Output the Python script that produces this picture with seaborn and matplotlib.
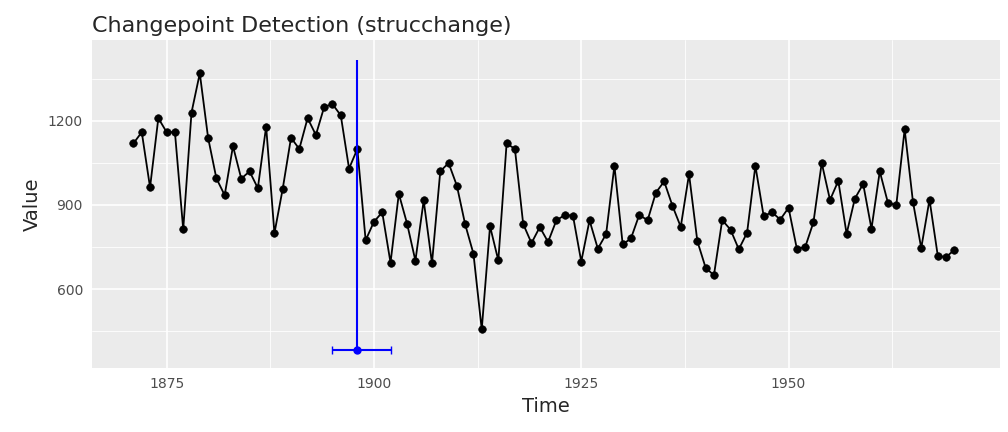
import matplotlib
matplotlib.use("Agg")
import matplotlib.pyplot as plt
import seaborn as sns
import pandas as pd
import numpy as np

years = list(range(1871, 1971))
values = [1120,1160,963,1210,1160,1160,813,1230,1370,1140,995,935,1110,994,1020,960,1180,799,958,1140,
          1100,1210,1150,1250,1260,1220,1030,1100,774,840,874,694,940,833,701,916,692,1020,1050,969,
          831,726,456,824,702,1120,1100,832,764,821,768,845,864,862,698,845,744,796,1040,759,
          781,865,845,944,984,897,822,1010,771,676,649,846,812,742,801,1040,860,874,848,890,
          744,749,838,1050,918,986,797,923,975,815,1020,906,901,1170,912,746,919,718,714,740]
break_year = 1898
ci_low, ci_high = 1895, 1902
ci_y = 382
vline_top = 1418

sns.set_theme(style="darkgrid", rc={"axes.facecolor": "#EBEBEB", "grid.color": "white"})
df = pd.DataFrame({"Time": years, "Value": values})

fig = plt.figure(figsize=(10.08, 4.32), dpi=100)
ax = fig.add_axes([92/1008, 64/432, 908/1008, 328/432])
sns.lineplot(data=df, x="Time", y="Value", color="black", lw=1.3, ax=ax)
sns.scatterplot(data=df, x="Time", y="Value", color="black", s=30, edgecolor="black", ax=ax, zorder=3)
ax.vlines(break_year, ci_y, vline_top, color="blue", lw=1.5, zorder=4)
ax.errorbar([break_year], [ci_y], xerr=[[break_year-ci_low], [ci_high-break_year]],
            fmt="o", color="blue", ms=5, capsize=3, lw=1.5, zorder=5)
ax.set_xlim(1866, 1975.5)
ax.set_ylim(318, 1489)
ax.set_xticks([1875, 1900, 1925, 1950])
ax.set_yticks([600, 900, 1200])
ax.set_xticks([1887.5, 1912.5, 1937.5, 1962.5], minor=True)
ax.set_yticks([450, 750, 1050, 1350], minor=True)
ax.grid(which="major", color="white", lw=1.2)
ax.grid(which="minor", color="white", lw=0.6)
ax.tick_params(colors="#4D4D4D", labelsize=10, length=3)
for s in ax.spines.values():
    s.set_visible(False)
ax.set_xlabel("Time", fontsize=14)
ax.set_ylabel("Value", fontsize=14)
ax.set_title("Changepoint Detection (strucchange)", loc="left", fontsize=16, x=0.0)
fig.savefig("out.png", dpi=100)
